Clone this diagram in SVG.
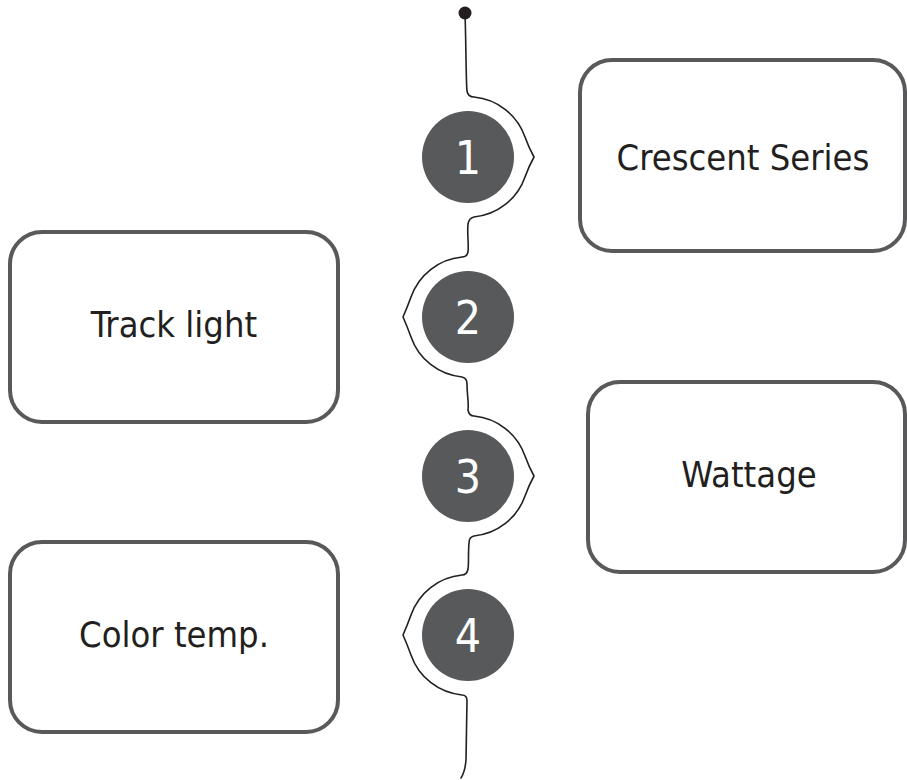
<svg xmlns="http://www.w3.org/2000/svg" width="907" height="780" viewBox="0 0 907 780">
<style>
.box{fill:#fff;stroke:#58595b;stroke-width:4}
.lbl{font-family:"DejaVu Sans Condensed","DejaVu Sans",sans-serif;font-stretch:condensed;font-size:36px;fill:#231f20;text-anchor:middle}
.badge{fill:#58595b}
.num{font-family:"DejaVu Sans Condensed","DejaVu Sans",sans-serif;font-stretch:condensed;font-size:46px;fill:#fff;text-anchor:middle}
.spine{fill:none;stroke:#231f20;stroke-width:1.6;stroke-linejoin:round;stroke-linecap:round}
</style>
<g id="connectors">
<circle cx="465" cy="13" r="6.5" fill="#231f20"/>
<path class="spine" d="M465,13 C466,40 466,82 467,91 Q468,97 474,97 A60,60 0 0 1 525,137 Q529,148 534,157 Q529,166 525,177 A60,60 0 0 1 474,217 Q469,218 468,224 C467,235 469,245 468,252 Q467,257 462,257 A60,60 0 0 0 411,297 Q407,308 403,317 Q407,326 411,337 A60,60 0 0 0 462,377 Q467,378 467,384 C467,395 469,403 468,410 Q469,416 474,416 A60,60 0 0 1 525,456 Q529,467 534,476 Q529,485 525,496 A60,60 0 0 1 474,536 Q469,537 469,543 C468,554 469,562 468,569 Q467,575 462,575 A60,60 0 0 0 411,615 Q407,626 403,635 Q407,644 411,655 A60,60 0 0 0 462,695 Q467,695 467,701 L466,760 Q465,772 461,778"/>
</g>
<g id="node-1">
<circle class="badge" cx="468" cy="157" r="46"/>
<text class="num" x="468" y="174">1</text>
<rect class="box" x="580" y="60" width="325" height="191" rx="32"/>
<text class="lbl" x="743" y="170">Crescent Series</text>
</g>
<g id="node-2">
<circle class="badge" cx="468" cy="317" r="46"/>
<text class="num" x="468" y="334">2</text>
<rect class="box" x="10" y="232" width="328" height="190" rx="32"/>
<text class="lbl" x="174" y="337">Track light</text>
</g>
<g id="node-3">
<circle class="badge" cx="468" cy="476" r="46"/>
<text class="num" x="468" y="493">3</text>
<rect class="box" x="588" y="382" width="317" height="190" rx="32"/>
<text class="lbl" x="749" y="487">Wattage</text>
</g>
<g id="node-4">
<circle class="badge" cx="468" cy="635" r="46"/>
<text class="num" x="468" y="652">4</text>
<rect class="box" x="10" y="542" width="328" height="190" rx="32"/>
<text class="lbl" x="174" y="647">Color temp.</text>
</g>
</svg>
